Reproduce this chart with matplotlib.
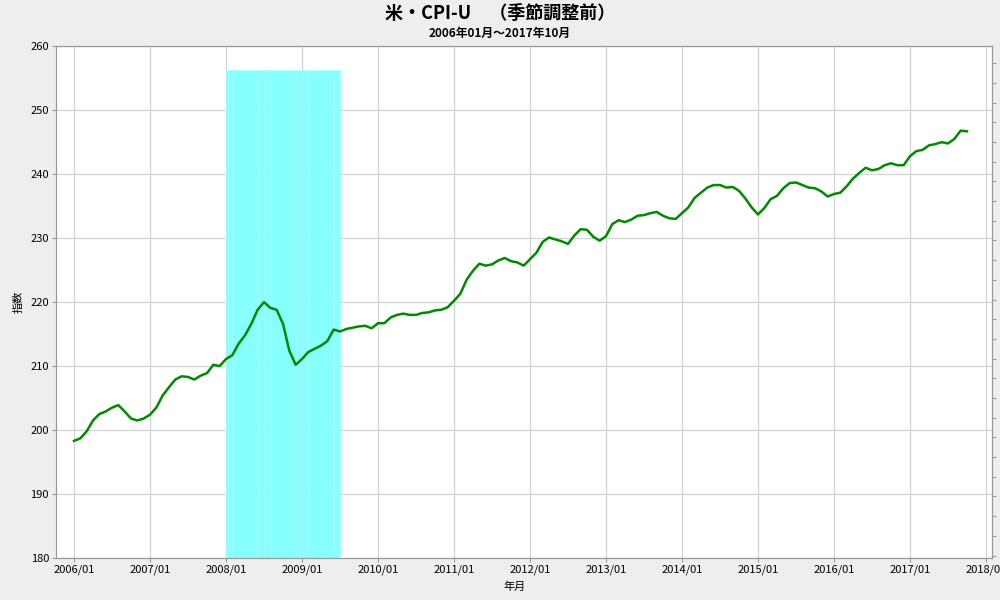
import numpy as np
import matplotlib
matplotlib.use("Agg")
import matplotlib.pyplot as plt

plt.rcParams['font.family'] = ['Noto Sans CJK JP', 'DejaVu Sans']

# CPI-U (not seasonally adjusted), 2006/01 - 2017/10
cpi_2006 = [198.3, 198.7, 199.8, 201.5, 202.5, 202.9, 203.5, 203.9, 202.9, 201.8, 201.5, 201.8]
cpi_2007 = [202.4, 203.5, 205.4, 206.7, 207.9, 208.4, 208.3, 207.9, 208.5, 208.9, 210.2, 210.0]
cpi_2008 = [211.1, 211.7, 213.5, 214.8, 216.6, 218.8, 220.0, 219.1, 218.8, 216.6, 212.4, 210.2]
cpi_2009 = [211.1, 212.2, 212.7, 213.2, 213.9, 215.7, 215.4, 215.8, 216.0, 216.2, 216.3, 215.9]
cpi_2010 = [216.7, 216.7, 217.6, 218.0, 218.2, 218.0, 218.0, 218.3, 218.4, 218.7, 218.8, 219.2]
cpi_2011 = [220.2, 221.3, 223.5, 224.9, 226.0, 225.7, 225.9, 226.5, 226.9, 226.4, 226.2, 225.7]
cpi_2012 = [226.7, 227.7, 229.4, 230.1, 229.8, 229.5, 229.1, 230.4, 231.4, 231.3, 230.2, 229.6]
cpi_2013 = [230.3, 232.2, 232.8, 232.5, 232.9, 233.5, 233.6, 233.9, 234.1, 233.5, 233.1, 233.0]
cpi_2014 = [233.9, 234.8, 236.3, 237.1, 237.9, 238.3, 238.3, 237.9, 238.0, 237.4, 236.2, 234.8]
cpi_2015 = [233.7, 234.7, 236.1, 236.6, 237.8, 238.6, 238.7, 238.3, 237.9, 237.8, 237.3, 236.5]
cpi_2016 = [236.9, 237.1, 238.1, 239.3, 240.2, 241.0, 240.6, 240.8, 241.4, 241.7, 241.4, 241.4]
cpi_2017 = [242.8, 243.6, 243.8, 244.5, 244.7, 245.0, 244.8, 245.5, 246.8, 246.7]

cpi = (cpi_2006 + cpi_2007 + cpi_2008 + cpi_2009 + cpi_2010 + cpi_2011
       + cpi_2012 + cpi_2013 + cpi_2014 + cpi_2015 + cpi_2016 + cpi_2017)

# recession months (index from 2006/01) and shading height
recession_months = list(range(24, 42))   # 2008/01 - 2009/06
recession_top = 256.3

year_labels = ["%d/01" % y for y in range(2006, 2019)]

months = np.arange(len(cpi))

fig = plt.figure(figsize=(10, 6), dpi=100, facecolor='#eeeeee')
ax = fig.add_axes([0.056, 0.07, 0.936, 0.853])
ax.set_facecolor('white')

ax.bar(recession_months, [recession_top - 180] * len(recession_months), bottom=180,
       width=1.0, align='edge', color='#88ffff', edgecolor='#a4ffff', linewidth=0.4, zorder=1)

ax.plot(months, cpi, color='#008a00', linewidth=1.8, zorder=3)

ax.set_xlim(-2.84, 144.95)
ax.set_ylim(180, 260)
ax.set_xticks(np.arange(0, 145, 12))
ax.set_xticklabels(year_labels)
ax.set_yticks(np.arange(180, 261, 10))
ax.grid(True, color='#d4d4d4', linewidth=0.9, zorder=0)
ax.set_axisbelow(True)
ax.tick_params(labelsize=8, length=3, color='#999999', pad=2)
for s in ax.spines.values():
    s.set_color('#999999')

ax.set_xlabel("年月", fontsize=8, labelpad=4)
ax.xaxis.set_label_coords(0.49, -0.045)
ax.set_ylabel("指数", fontsize=8, labelpad=4)
ax.yaxis.set_label_coords(-0.035, 0.5)

ax2 = ax.twinx()
ax2.set_ylim(180, 260)
ax2.set_yticks([260 - 2.66 - 3.078 * k for k in range(26)])
ax2.set_yticklabels([])
ax2.tick_params(length=3, color='#999999')
for s in ax2.spines.values():
    s.set_color('#999999')

fig.text(0.5, 0.993, "米・CPI-U　（季節調整前）", ha='center', va='top', fontsize=13, fontweight='bold')
fig.text(0.5, 0.955, "2006年01月～2017年10月", ha='center', va='top', fontsize=8.5, fontweight='bold')

fig.savefig("out.png", dpi=100, facecolor=fig.get_facecolor())
